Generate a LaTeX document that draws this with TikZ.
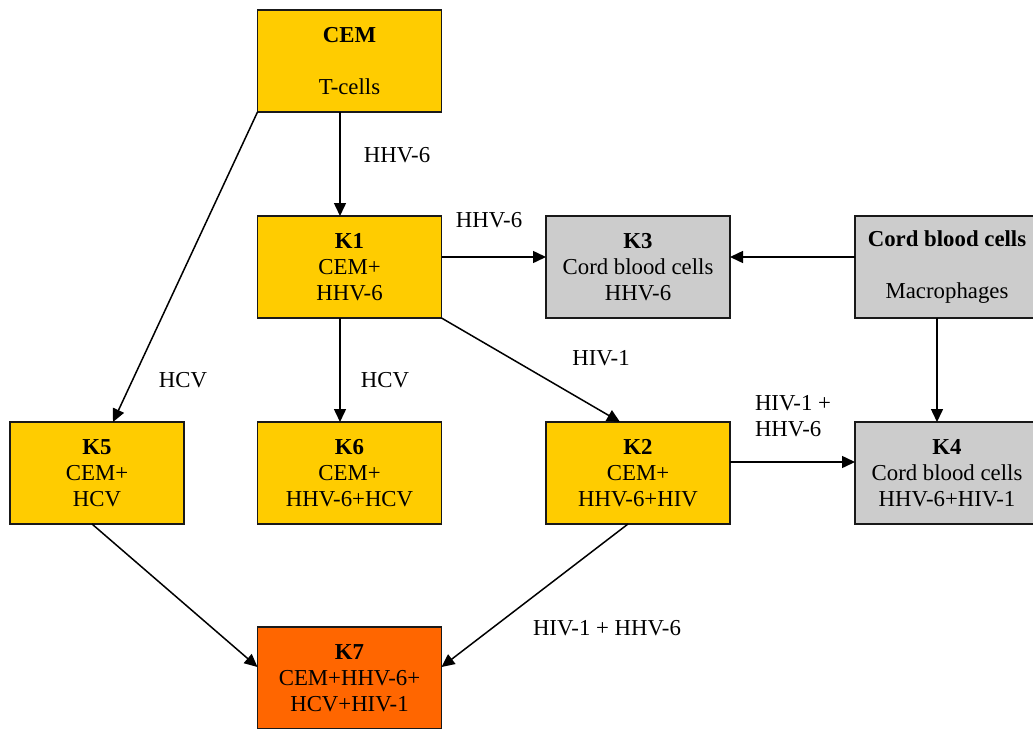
\documentclass[tikz,border=0pt]{standalone}
\usepackage{fontspec}
\setmainfont{Liberation Serif}
\usetikzlibrary{positioning,arrows.meta}
\definecolor{cellyellow}{RGB}{255,204,0}
\definecolor{cellgray}{RGB}{204,204,204}
\definecolor{cellorange}{RGB}{255,102,0}

\begin{document}
\begin{tikzpicture}
[x=1pt,y=1pt,
 every node/.style={font=\fontsize{22.8}{26}\selectfont,align=center,inner sep=0pt,outer sep=0pt},
 cell/.style={draw=black!90,line width=1.7pt,minimum width=184pt,minimum height=102pt},
 yel/.style={cell,fill=cellyellow},
 gry/.style={cell,fill=cellgray},
 org/.style={cell,fill=cellorange},
 >={Triangle[length=13pt,width=12pt]},
 line width=1.5pt]
\useasboundingbox (0,0) rectangle (1033,-728);
\node[yel] (cem)  at (349.5,-61)                     {\textbf{CEM}\\~\\T-cells};
\node[yel] (k1)   [on grid,below=206pt of cem]      {\textbf{K1}\\CEM+\\HHV-6};
\node[gry] (k3)   [on grid,right=288.5pt of k1]     {\textbf{K3}\\Cord blood cells\\HHV-6};
\node[gry] (cord) [on grid,right=309pt of k3]       {\textbf{Cord blood cells}\\~\\Macrophages};
\node[yel] (k6)   [on grid,below=206pt of k1]       {\textbf{K6}\\CEM+\\HHV-6+HCV};
\node[yel,minimum width=174pt] (k5) [on grid,left=252.5pt of k6] {\textbf{K5}\\CEM+\\HCV};
\node[yel] (k2)   [on grid,below=206pt of k3]       {\textbf{K2}\\CEM+\\HHV-6+HIV};
\node[gry] (k4)   [on grid,below=206pt of cord]     {\textbf{K4}\\Cord blood cells\\HHV-6+HIV-1};
\node[org] (k7)   [on grid,below=205pt of k6]       {\textbf{K7}\\CEM+HHV-6+\\HCV+HIV-1};
\draw[->] ([xshift=-9.5pt]cem.south) -- ([xshift=-9.5pt]k1.north);
\draw[->] (cem.south west)           -- ([xshift=16pt]k5.north);
\draw[->] ([yshift=10pt]k1.east)     -- ([yshift=10pt]k3.west);
\draw[->] ([yshift=10pt]cord.west)   -- ([yshift=10pt]k3.east);
\draw[->] ([xshift=-9.5pt]k1.south)  -- ([xshift=-9.5pt]k6.north);
\draw[->] (k1.south east)            -- ([xshift=-18pt]k2.north);
\draw[->] ([xshift=-10pt]cord.south) -- ([xshift=-10pt]k4.north);
\draw[->] ([yshift=11pt]k2.east)     -- ([yshift=11pt]k4.west);
\draw[->] ([xshift=-5pt]k5.south)    -- ([yshift=11pt]k7.west);
\draw[->] ([xshift=-10pt]k2.south)   -- ([yshift=11pt]k7.east);
\node (lcemk1) at (397,-155) {HHV-6};
\node (lk1k3)  at (489,-220) {HHV-6};
\node (lcemk5) at (183,-380) {HCV};
\node (lk1k6)  at (385,-380) {HCV};
\node (lk1k2)  at (601,-358) {HIV-1};
\node[align=left,anchor=west] (lk2k4) at (755,-416.5) {HIV-1 +\\HHV-6};
\node (lk2k7)  at (607,-628) {HIV-1 + HHV-6};
\end{tikzpicture}
\end{document}
